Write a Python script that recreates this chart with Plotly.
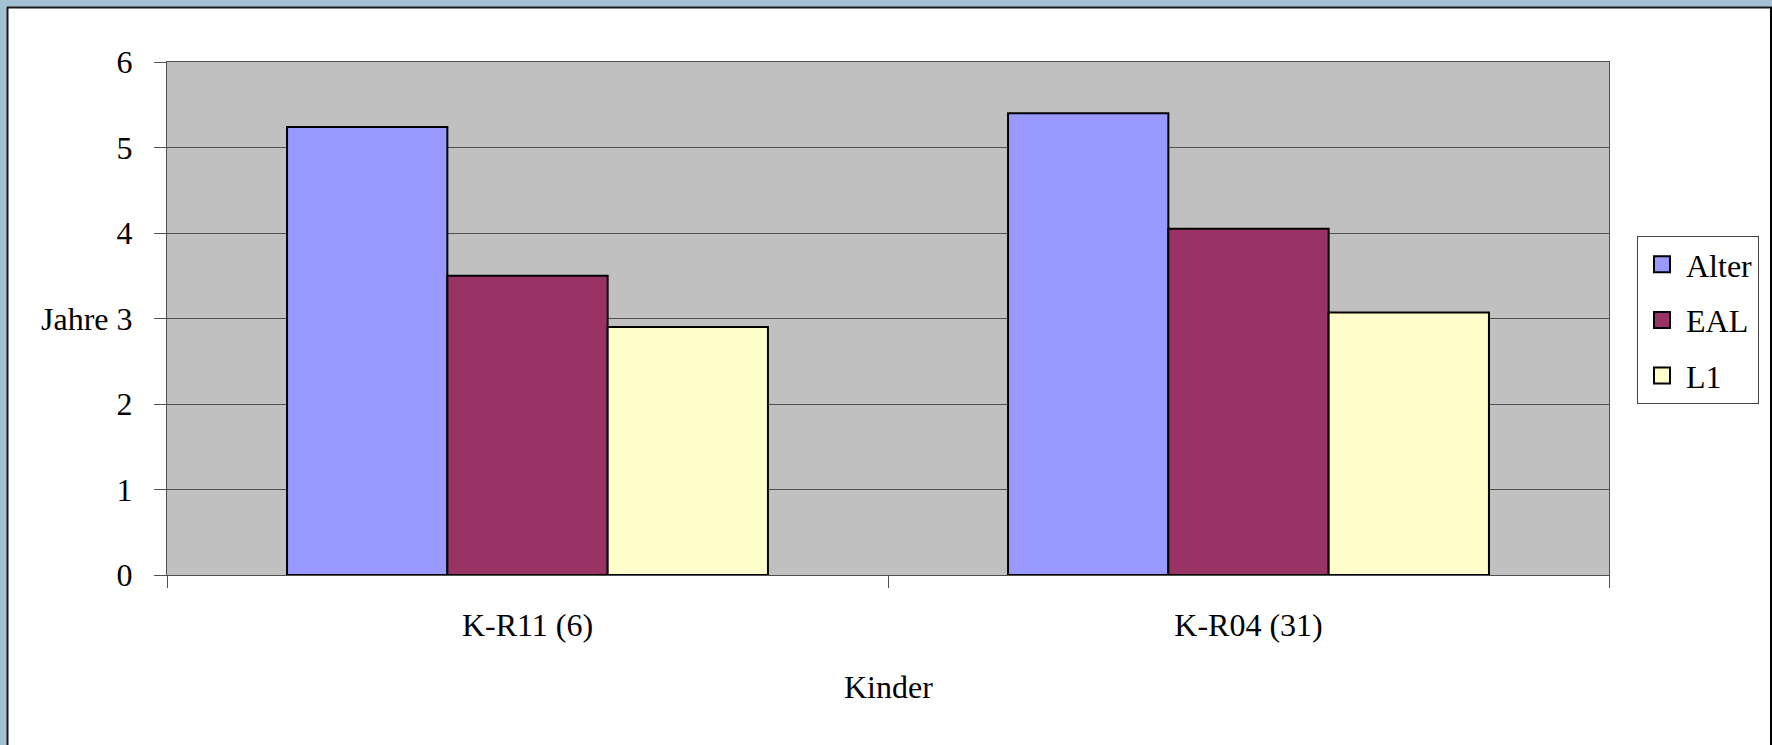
import plotly.graph_objects as go

categories = ["K-R11 (6)", "K-R04 (31)"]
alter = [5.24, 5.40]
eal = [3.50, 4.05]
l1 = [2.90, 3.07]
series_names = ["Alter", "EAL", "L1"]
series_colors = ["#9999FF", "#993366", "#FFFFCC"]
y_ticks = [0, 1, 2, 3, 4, 5, 6]

W, H = 1772, 745
L, R, T, B = 167, 1609, 62, 575
FONT = "Liberation Serif"

def xp(px):
    return (px - L) / (R - L)

def yp(py):
    return (B - py) / (B - T)

fig = go.Figure()
for name, vals, col in zip(series_names, [alter, eal, l1], series_colors):
    fig.add_trace(go.Bar(
        x=categories, y=vals, name=name, showlegend=False, legendgroup=name,
        marker=dict(color=col, line=dict(color="black", width=2)),
    ))
for name, col in zip(series_names, series_colors):
    fig.add_trace(go.Scatter(
        x=[None], y=[None], name=name, mode="markers", legendgroup=name,
        marker=dict(symbol="square", size=18, color=col, line=dict(color="black", width=2)),
    ))

shapes = [
    dict(type="rect", xref="paper", yref="paper", x0=xp(0), x1=xp(7), y0=yp(H), y1=yp(0),
         fillcolor="#A5BFD3", line=dict(width=0), layer="above"),
    dict(type="rect", xref="paper", yref="paper", x0=xp(0), x1=xp(W), y0=yp(7), y1=yp(0),
         fillcolor="#A5BFD3", line=dict(width=0), layer="above"),
    dict(type="line", xref="paper", yref="paper", x0=xp(7.5), x1=xp(7.5), y0=yp(H), y1=yp(7),
         line=dict(color="#1a1a1a", width=2), layer="above"),
    dict(type="line", xref="paper", yref="paper", x0=xp(7), x1=xp(W), y0=yp(7.5), y1=yp(7.5),
         line=dict(color="#1a1a1a", width=2), layer="above"),
    dict(type="line", xref="paper", yref="paper", x0=xp(1771), x1=xp(1771), y0=yp(H), y1=yp(7),
         line=dict(color="#000000", width=2), layer="above"),
]

annotations = [
    dict(text="Jahre", xref="paper", yref="y", x=xp(111), y=3, xanchor="right", yanchor="middle",
         showarrow=False, font=dict(family=FONT, size=32, color="black")),
    dict(text="Kinder", xref="paper", yref="paper", x=0.5, y=yp(687), xanchor="center", yanchor="middle",
         showarrow=False, font=dict(family=FONT, size=32, color="black")),
]

fig.update_layout(
    width=W, height=H,
    margin=dict(l=L, r=W - R, t=T, b=H - B, pad=0),
    paper_bgcolor="white",
    plot_bgcolor="#C0C0C0",
    barmode="group",
    bargap=0.333,
    bargroupgap=0,
    font=dict(family=FONT, size=32, color="black"),
    showlegend=True,
    legend=dict(
        x=xp(1637), y=yp(236), xanchor="left", yanchor="top",
        bgcolor="white", bordercolor="#444444", borderwidth=1,
        font=dict(family=FONT, size=32, color="black"),
        traceorder="grouped",
        tracegroupgap=11,
        itemwidth=38,
    ),
    shapes=shapes,
    annotations=annotations,
)

fig.update_xaxes(
    showgrid=False, showline=True, linecolor="#505050", linewidth=1, mirror=True,
    ticks="outside", tickson="boundaries", ticklen=12, tickcolor="#505050", tickwidth=1,
    ticklabelstandoff=22, tickfont=dict(family=FONT, size=32, color="black"),
)
fig.update_yaxes(
    range=[0, 6], tickvals=y_ticks, showgrid=True, gridcolor="#505050", gridwidth=1,
    zeroline=False, showline=True, linecolor="#505050", linewidth=1, mirror=True,
    ticks="outside", ticklen=12, tickcolor="#505050", tickwidth=1,
    ticklabelstandoff=15, tickfont=dict(family=FONT, size=32, color="black"),
)

fig.write_html("out.html", config={"displayModeBar": False},
               post_script="document.body.style.margin='0';")
